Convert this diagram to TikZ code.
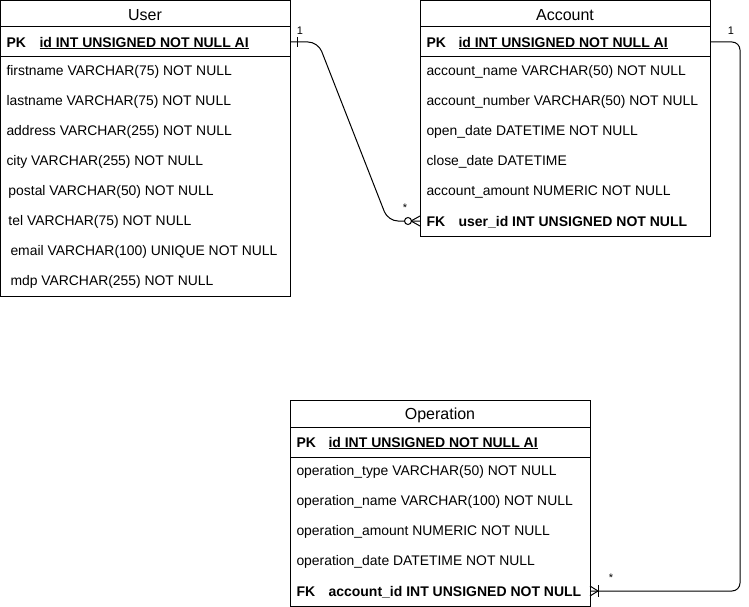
\documentclass[tikz,border=0pt]{standalone}
\usepackage{fontspec}
\setmainfont{Liberation Sans}
\usetikzlibrary{positioning}

\begin{document}
\begin{tikzpicture}[x = 1pt, y = -1pt, line width = 1pt,
tbl/.style={ rectangle, draw, anchor = north west, inner sep = 0pt },
title/.style={ inner sep = 0pt, font = \fontsize{16}{18}\selectfont },
row/.style={ anchor = west, inner sep = 0pt, font = \fontsize{13.9}{15}\selectfont },
key/.style={ row, font = \fontsize{14}{15}\selectfont\bfseries },
card/.style={ inner sep = 0pt, font = \fontsize{11}{12}\selectfont }
]
\useasboundingbox (0,0) rectangle (749,607);

%User table
\node (user) [tbl, minimum width = 290, minimum height = 296] at (0,0) {};
\node (utitle) [title] at (145,15) {User};
\draw (0,27) -- (290,27) (0,57) -- (290,57);
\node (upk) [key] at (6,43) {PK};
\node (uid) [key] at (39,43) {\underline{id INT UNSIGNED NOT NULL AI}};
\foreach \dx/\t [count = \i] in {6/firstname VARCHAR(75) NOT NULL, 6/lastname VARCHAR(75) NOT NULL,
	6/address VARCHAR(255) NOT NULL, 6/city VARCHAR(255) NOT NULL, 8/postal VARCHAR(50) NOT NULL,
	8/tel VARCHAR(75) NOT NULL, 10/email VARCHAR(100) UNIQUE NOT NULL, 10/mdp VARCHAR(255) NOT NULL}
	\node (u\i) [row] at (\dx,42+30*\i) {\t};

%Account table
\node (account) [tbl, minimum width = 290, minimum height = 236] at (420,0) {};
\node (atitle) [title] at (565,15) {Account};
\draw (420,27) -- (710,27) (420,57) -- (710,57);
\node (apk) [key] at (426,43) {PK};
\node (aid) [key] at (458,43) {\underline{id INT UNSIGNED NOT NULL AI}};
\foreach \t [count = \i] in {account\_name VARCHAR(50) NOT NULL, account\_number VARCHAR(50) NOT NULL,
	open\_date DATETIME NOT NULL, close\_date DATETIME, account\_amount NUMERIC NOT NULL}
	\node (a\i) [row] at (426,42+30*\i) {\t};
\node (afkk) [key] at (426,222) {FK};
\node (afk) [key] at (458,222) {user\_id INT UNSIGNED NOT NULL};

%Operation table
\node (operation) [tbl, minimum width = 300, minimum height = 206] at (290,400) {};
\node (otitle) [title] at (440,415) {Operation};
\draw (290,427) -- (590,427) (290,457) -- (590,457);
\node (opk) [key] at (296,443) {PK};
\node (oid) [key] at (328,443) {\underline{id INT UNSIGNED NOT NULL AI}};
\foreach \t [count = \i] in {operation\_type VARCHAR(50) NOT NULL, operation\_name VARCHAR(100) NOT NULL,
	operation\_amount NUMERIC NOT NULL, operation\_date DATETIME NOT NULL}
	\node (o\i) [row] at (296,442+30*\i) {\t};
\node (ofkk) [key] at (296,592) {FK};
\node (ofk) [key] at (328,592) {account\_id INT UNSIGNED NOT NULL};

%user to account, one to zero or many
\coordinate (ua1) at (318,42);
\coordinate (ua2) at (388,221);
\draw [rounded corners = 10] (user.east |- ua1) -- (ua1) -- (ua2) -- (account.west |- ua2);
\draw (297,37) -- (297,47);
\draw [fill = white] (408,221) circle (3.5);
\draw (411,221) -- (420,216) (411,221) -- (420,226);
\node (uone) [card] at (300,31) {1};
\node (amany) [card] at (405,208) {*};

%account to operation, one to one or many
\coordinate (ao1) at (740,42);
\coordinate (ao2) at (740,591);
\draw [rounded corners = 8] (account.east |- ao1) -- (ao1) -- (ao2) -- (operation.east |- ao2);
\draw (590,586) -- (598,591) -- (590,596);
\draw (598,585) -- (598,597);
\node (aone) [card] at (731,31) {1};
\node (omany) [card] at (611,578) {*};
\end{tikzpicture}
\end{document}
